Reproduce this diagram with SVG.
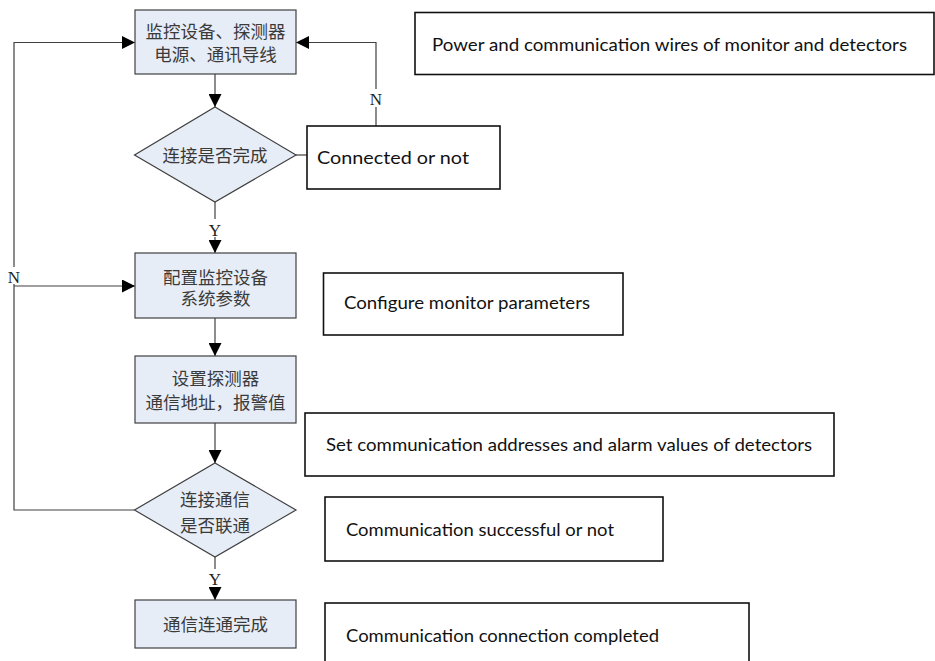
<svg xmlns="http://www.w3.org/2000/svg" width="935" height="661" viewBox="0 0 935 661">
<style>
.proc{fill:#e7edf7;stroke:#404040;stroke-width:1.2}
.note{fill:#fff;stroke:#111;stroke-width:1.6}
.cn{font-family:"Liberation Serif","Noto Sans CJK SC",serif;font-size:17.5px;fill:#3a3a3a;text-anchor:middle}
.en{font-family:Lato,"Liberation Sans",sans-serif;font-size:17px;fill:#111}
.lbl{font-family:"Liberation Serif",serif;font-size:17px;fill:#222;text-anchor:middle}
.ln{fill:none;stroke:#404040;stroke-width:1.2}
</style>
<defs>
<marker id="ah" markerUnits="userSpaceOnUse" markerWidth="13" markerHeight="13" refX="13" refY="6.5" orient="auto">
<path d="M0,0 L13,6.5 L0,13 z" fill="#000"/>
</marker>
</defs>
<rect width="935" height="661" fill="#fff"/>
<g id="connectors">
<path class="ln" d="M215,74 V107" marker-end="url(#ah)"/>
<path class="ln" d="M296,155 H307"/>
<path class="ln" d="M376,126 V42.5 H296" marker-end="url(#ah)"/>
<path class="ln" d="M215,202 V253" marker-end="url(#ah)"/>
<path class="ln" d="M215,318 V356" marker-end="url(#ah)"/>
<path class="ln" d="M215,423 V463" marker-end="url(#ah)"/>
<path class="ln" d="M134.5,510 H14 V42.5 H135" marker-end="url(#ah)"/>
<path class="ln" d="M14,286 H135" marker-end="url(#ah)"/>
<path class="ln" d="M215,557 V600" marker-end="url(#ah)"/>
<rect x="369" y="89" width="14" height="18" fill="#fff"/>
<text class="lbl" x="376" y="105">N</text>
<rect x="7" y="267" width="14" height="17" fill="#fff"/>
<text class="lbl" x="14" y="283">N</text>
<rect x="208" y="219" width="14" height="18" fill="#fff"/>
<text class="lbl" x="215" y="236">Y</text>
<rect x="208" y="569" width="14" height="18" fill="#fff"/>
<text class="lbl" x="215" y="585">Y</text>
</g>
<g id="n1">
<rect class="proc" x="135" y="10" width="161" height="64"/>
<text class="cn" x="215.5" y="38">监控设备、探测器</text>
<text class="cn" x="215.5" y="61">电源、通讯导线</text>
</g>
<g id="n2">
<polygon class="proc" points="215,107 296,155 215,202 134.5,155"/>
<text class="cn" x="215" y="162">连接是否完成</text>
</g>
<g id="n3">
<rect class="proc" x="135" y="253" width="161" height="65"/>
<text class="cn" x="215.5" y="283.5">配置监控设备</text>
<text class="cn" x="215.5" y="305">系统参数</text>
</g>
<g id="n4">
<rect class="proc" x="135" y="356" width="161" height="67"/>
<text class="cn" x="215.5" y="385">设置探测器</text>
<text class="cn" x="215.5" y="409">通信地址，报警值</text>
</g>
<g id="n5">
<polygon class="proc" points="215,463 296,510 215,557 134.5,510"/>
<text class="cn" x="215" y="506">连接通信</text>
<text class="cn" x="215" y="532">是否联通</text>
</g>
<g id="n6">
<rect class="proc" x="135" y="600" width="161" height="48"/>
<text class="cn" x="215.5" y="631">通信连通完成</text>
</g>
<g id="e1">
<rect class="note" x="415" y="12.5" width="519" height="62"/>
<text class="en" x="432" y="51" textLength="475" lengthAdjust="spacingAndGlyphs">Power and communication wires of monitor and detectors</text>
</g>
<g id="e2">
<rect class="note" x="307" y="126" width="193" height="63"/>
<text class="en" x="317" y="164" textLength="152" lengthAdjust="spacingAndGlyphs">Connected or not</text>
</g>
<g id="e3">
<rect class="note" x="323.5" y="273" width="299.5" height="62"/>
<text class="en" x="344" y="309" textLength="246" lengthAdjust="spacingAndGlyphs">Configure monitor parameters</text>
</g>
<g id="e4">
<rect class="note" x="305" y="413" width="529" height="63"/>
<text class="en" x="326" y="451" textLength="486" lengthAdjust="spacingAndGlyphs">Set communication addresses and alarm values of detectors</text>
</g>
<g id="e5">
<rect class="note" x="325" y="497" width="338" height="64"/>
<text class="en" x="346" y="536" textLength="268" lengthAdjust="spacingAndGlyphs">Communication successful or not</text>
</g>
<g id="e6">
<rect class="note" x="325" y="603" width="424" height="70"/>
<text class="en" x="346" y="642" textLength="313" lengthAdjust="spacingAndGlyphs">Communication connection completed</text>
</g>
</svg>
